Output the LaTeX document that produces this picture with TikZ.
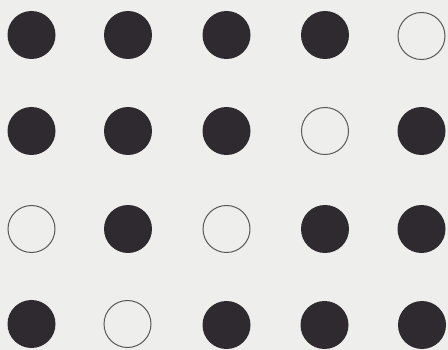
\documentclass[tikz,border=0pt]{standalone}
\definecolor{bg}{HTML}{EEEEEC}
\definecolor{dot}{HTML}{2E2A2F}
\definecolor{ring}{HTML}{5A585A}
\begin{document}
\begin{tikzpicture}[x=1pt,y=-1pt,
  full/.style={circle,fill=dot,draw=none,minimum size=48pt,inner sep=0pt},
  hollow/.style={circle,draw=ring,line width=1pt,fill=none,minimum size=47pt,inner sep=0pt}]
\fill[bg] (0,0) rectangle (448,350);
\useasboundingbox (0,0) rectangle (448,350);
% row 1
\node[full]   (a1) at (31.5,35) {};
\node[full]   (a2) at (128,35) {};
\node[full]   (a3) at (226.5,35) {};
\node[full]   (a4) at (325,35) {};
\node[hollow] (a5) at (421.5,36) {};
% row 2
\node[full]   (b1) at (31.5,131) {};
\node[full]   (b2) at (128,131) {};
\node[full]   (b3) at (226.5,131) {};
\node[hollow] (b4) at (325,131) {};
\node[full]   (b5) at (421.5,131) {};
% row 3
\node[hollow] (c1) at (31.5,229) {};
\node[full]   (c2) at (128,229) {};
\node[hollow] (c3) at (226.5,229) {};
\node[full]   (c4) at (325,229) {};
\node[full]   (c5) at (421.5,229) {};
% row 4
\node[full]   (d1) at (31.5,324) {};
\node[hollow] (d2) at (127.5,324) {};
\node[full]   (d3) at (226.5,325) {};
\node[full]   (d4) at (324.5,325) {};
\node[full]   (d5) at (422,325) {};
\end{tikzpicture}
\end{document}
